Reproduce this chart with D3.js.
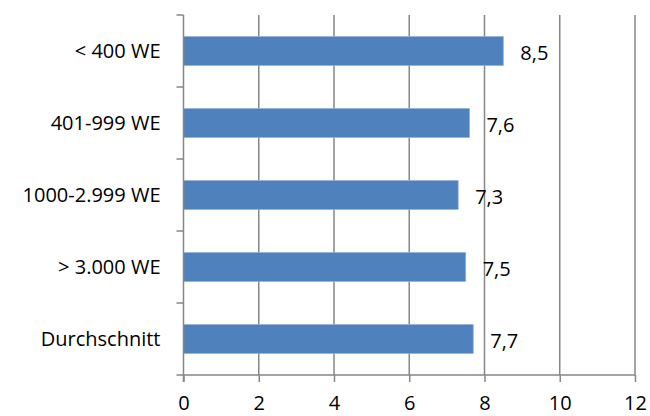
<!DOCTYPE html>
<html>
<head>
<meta charset="utf-8">
<script src="https://cdn.jsdelivr.net/npm/d3@7"></script>
<style>
  html, body { margin: 0; padding: 0; background: #fff; }
  svg { display: block; }
  text { font-family: "Open Sans", "Liberation Sans", sans-serif; fill: #000; }
</style>
</head>
<body>
<div id="chart"></div>
<script>
const categories = ["< 400 WE", "401-999 WE", "1000-2.999 WE", "> 3.000 WE", "Durchschnitt"];
const values = [8.5, 7.6, 7.3, 7.5, 7.7];
const xTicks = [0, 2, 4, 6, 8, 10, 12];

const width = 650, height = 416;
const margin = { top: 15, right: 15, bottom: 41, left: 183.5 };
const innerW = width - margin.left - margin.right;
const innerH = height - margin.top - margin.bottom;
const fontSize = 20;

const svg = d3.select("#chart").append("svg")
  .attr("width", width).attr("height", height);

const g = svg.append("g").attr("transform", `translate(${margin.left},${margin.top})`);

const x = d3.scaleLinear().domain([0, 12]).range([0, innerW]);
const y = d3.scaleBand().domain(categories).range([0, innerH]).paddingInner(0.6).paddingOuter(0.3);

const gridColor = "#868686";

// vertical gridlines
g.append("g").selectAll("line")
  .data(xTicks.filter(t => t > 0))
  .join("line")
  .attr("x1", d => x(d)).attr("x2", d => x(d))
  .attr("y1", 0).attr("y2", innerH)
  .attr("stroke", gridColor).attr("stroke-width", 1.5);

// bars
g.append("g").selectAll("rect")
  .data(categories)
  .join("rect")
  .attr("x", x(0))
  .attr("y", d => y(d))
  .attr("width", (d, i) => x(values[i]) - x(0))
  .attr("height", y.bandwidth())
  .attr("fill", "#4F81BD")
  .attr("stroke", "#8fb0d8")
  .attr("stroke-width", 0.8);

// value labels
g.append("g").selectAll("text")
  .data(categories)
  .join("text")
  .attr("x", (d, i) => x(values[i]) + 17)
  .attr("y", d => y(d) + y.bandwidth() / 2 + 2)
  .attr("dy", "0.35em")
  .attr("font-size", fontSize)
  .text((d, i) => d3.format(".1f")(values[i]).replace(".", ","));

// bottom axis
const xAxis = g.append("g")
  .attr("transform", `translate(0,${innerH})`)
  .call(d3.axisBottom(x).tickValues(xTicks).tickSize(7).tickPadding(14).tickFormat(d3.format("d")));
xAxis.select(".domain").attr("stroke", gridColor).attr("stroke-width", 1.5)
  .attr("d", `M0,0H${innerW}`);
xAxis.selectAll(".tick line").attr("stroke", gridColor).attr("stroke-width", 1.5);
xAxis.selectAll(".tick text").attr("font-size", fontSize).attr("font-family", "'Open Sans', sans-serif").attr("fill", "#000");

// left category axis with ticks between categories
const step = innerH / categories.length;
const yAxisG = g.append("g");
yAxisG.append("line")
  .attr("x1", 0).attr("x2", 0).attr("y1", 0).attr("y2", innerH + 7)
  .attr("stroke", gridColor).attr("stroke-width", 1.5);
yAxisG.selectAll("line.sep")
  .data(d3.range(categories.length + 1))
  .join("line").attr("class", "sep")
  .attr("x1", -7).attr("x2", 0)
  .attr("y1", d => d * step).attr("y2", d => d * step)
  .attr("stroke", gridColor).attr("stroke-width", 1.5);
yAxisG.selectAll("text")
  .data(categories)
  .join("text")
  .attr("x", -23)
  .attr("y", d => y(d) + y.bandwidth() / 2)
  .attr("dy", "0.35em")
  .attr("text-anchor", "end")
  .attr("font-size", fontSize)
  .text(d => d);
</script>
</body>
</html>
